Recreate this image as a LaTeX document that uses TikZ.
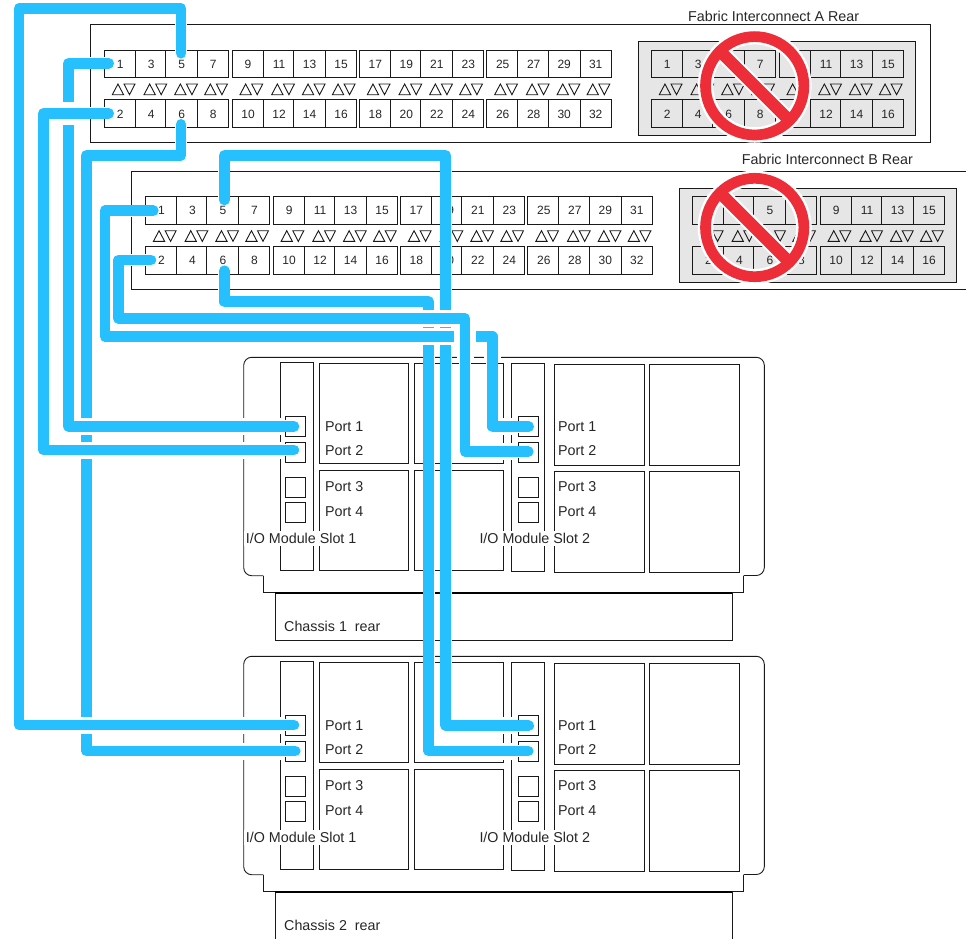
\documentclass[tikz,border=0pt]{standalone}
\usepackage{fontspec}
\setmainfont{Liberation Sans}
\usetikzlibrary{calc}
\definecolor{cablecol}{RGB}{38,192,255}
\definecolor{panelcol}{RGB}{230,230,230}
\definecolor{signcol}{RGB}{237,46,56}
\tikzset{
  wire/.style={draw=black!90, line width=0.9pt},
  portnum/.style={inner sep=0pt, font=\fontsize{12}{14}\selectfont, text=black!85},
  caption/.style={anchor=west, inner sep=0pt, font=\fontsize{14.3}{16}\selectfont, text=black!85},
  slotlabel/.style={caption, fill=white, inner xsep=1.5pt, minimum height=15pt},
  cable/.style={draw=cablecol, line width=10.6pt, line cap=round, line join=round,
    preaction={draw=white, line width=12pt, line cap=butt}},
  wipe/.style={draw=white, line width=17pt}
}
\newcommand{\portgroup}[3]{
  \foreach \ry/\rh in {50/27.7, 99.3/28} {
    \draw[wire] (#1,\ry) rectangle ++(124.4,\rh);
    \foreach \dx in {31,61.5,93.5} \draw[wire] (#1+\dx,\ry) -- ++(0,\rh);
  }
  \foreach \dx [count=\i from 0] in {16,47,77.5,109} {
    \pgfmathtruncatemacro\numtop{#2+2*\i}
    \pgfmathtruncatemacro\numbot{#2+2*\i+1}
    \node[portnum] (#3\numtop) at (#1+\dx,64) {\numtop};
    \node[portnum] (#3\numbot) at (#1+\dx,114) {\numbot};
  }
  \foreach \dx in {8,39.7,70.4,100.4} {
    \draw[wire] (#1+\dx,94.7) -- ++(11.3,0) -- ++(-5.65,-10.7) -- cycle;
    \draw[wire] (#1+\dx+11.7,84) -- ++(11,0) -- ++(-5.5,10.7) -- cycle;
  }
}
\newcommand{\fabricports}[1]{
  \portgroup{104.3}{1}{#1}
  \portgroup{232}{9}{#1}
  \portgroup{359.3}{17}{#1}
  \portgroup{486.7}{25}{#1}
  \draw[wire, fill=panelcol] (638.7,41.7) rectangle (915,135.7);
  \portgroup{651.3}{1}{#1g}
  \portgroup{779}{9}{#1g}
}
\newcommand{\nosign}[3]{
  \coordinate (#1) at (#2,#3);
  \draw[white, line width=15.5pt] (#1) circle (49.2);
  \draw[white, line width=16pt] ($(#1)+(-31,-31)$) -- ($(#1)+(31,31)$);
  \draw[signcol, line width=12pt] ($(#1)+(-35,-35)$) -- ($(#1)+(35,35)$);
  \draw[signcol, line width=10.7pt] (#1) circle (49.2);
}
\newcommand{\modulebox}[4]{
  \draw[wire] (#1,#2) rectangle (#3,#4);
}
\newcommand{\chassisrear}[1]{
  \draw[wire, rounded corners=8] (263.3,575.7) -- (243.7,575.7) -- (243.7,357.3) -- (764.3,357.3) -- (764.3,575.5) -- (743.7,575.5);
  \draw[wire] (263.3,575.7) -- (263.3,592.7) -- (743.7,592.7) -- (743.7,575.5);
  \draw[wire] (275.3,592.7) rectangle (732.3,640.3);
  \draw[black, line width=1.8pt] (275.3,592.7) -- (732.3,592.7);
  \modulebox{280.3}{362.3}{313.7}{570.3}
  \modulebox{511.3}{363.3}{544.7}{571.7}
  \modulebox{319.3}{363.3}{408.3}{463.7}
  \modulebox{319.3}{470.3}{408.3}{570.7}
  \modulebox{414.3}{363.3}{503.7}{463.7}
  \modulebox{414.3}{470.3}{503.7}{570.7}
  \modulebox{554.7}{364.3}{644}{465}
  \modulebox{554.7}{471.3}{644}{572}
  \modulebox{649.7}{364.3}{739}{465}
  \modulebox{649.7}{471.3}{739}{572}
  \foreach \py in {416.3,442,477,502.3} {
    \modulebox{285}{\py}{305.7}{\py+20}
    \modulebox{518.3}{\py}{538.7}{\py+20}
  }
  \foreach \pn/\py in {1/426.5,2/450.5,3/486.5,4/511.5} {
    \node[caption] (c#1s1l\pn) at (325,\py) {Port \pn};
    \node[caption] (c#1s2l\pn) at (558,\py) {Port \pn};
  }
  \node[slotlabel] (c#1m1) at (244.2,538.3) {I/O Module Slot 1};
  \node[slotlabel] (c#1m2) at (477.8,538.3) {I/O Module Slot 2};
  \node[caption] (c#1rear) at (284,626) {Chassis #1\ \ rear};
}
\begin{document}
\begin{tikzpicture}[x=1pt,y=-1pt]
\useasboundingbox (0,0) rectangle (966,938);
\draw[wire] (90.7,24.3) rectangle (930.3,142.3);
\draw[wire] (966,171) -- (131.3,171) -- (131.3,289) -- (966,289);
\node[caption] (fabrica) at (688,16) {Fabric Interconnect A Rear};
\node[caption] (fabricb) at (741.7,159) {Fabric Interconnect B Rear};
\fabricports{a}
\begin{scope}[shift={(41.1,146.7)}]
\fabricports{b}
\end{scope}
\nosign{signa}{754.7}{85.8}
\nosign{signb}{754.7}{227.5}
\chassisrear{1}
\begin{scope}[yshift=-299pt]
\chassisrear{2}
\end{scope}
\coordinate (a1end) at (108.7,63.3);
\coordinate (a2end) at (108.7,113.3);
\coordinate (a5end) at (181,53.3);
\coordinate (a6end) at (181,124.3);
\coordinate (b1end) at (153.3,210.7);
\coordinate (b2end) at (151,260);
\coordinate (b5end) at (224.3,200);
\coordinate (b6end) at (224.3,270.7);
\coordinate (c1s1p1) at (294,426.3);
\coordinate (c1s1p2) at (294,450);
\coordinate (c1s2p1) at (528.7,426.7);
\coordinate (c1s2p2) at (528.3,451.7);
\coordinate (c2s1p1) at (294,725);
\coordinate (c2s1p2) at (295.3,751);
\coordinate (c2s2p1) at (528.7,725.7);
\coordinate (c2s2p2) at (528.3,751);
\draw[wipe] (91,751) -- (283,751);
\draw[cable] (a6end) |- (86.3,155.3) |- (c2s1p2);
\draw[wipe] (78,426.3) -- (283,426.3);
\draw[cable] (a1end) -| (68.3,200) |- (c1s1p1);
\draw[wipe, line width=23pt] (60,113.3) -- (78,113.3);
\draw[wipe] (48,450) -- (283,450);
\draw[cable] (a2end) -| (43.3,300) |- (c1s1p2);
\draw[wipe] (24,725) -- (283,725);
\draw[cable] (a5end) |- (19,8.3) |- (c2s1p1);
\draw[wipe] (451,725.7) -- (516,725.7);
\draw[cable] (b5end) |- (445.7,155.3) |- (c2s2p1);
\draw[wipe] (434,751) -- (516,751);
\draw[cable] (b6end) |- (428.7,301.7) |- (c2s2p2);
\draw[wipe] (420,336.7) -- (453.7,336.7);
\draw[wipe] (492.3,352) -- (492.3,361);
\draw[wipe] (498,426.7) -- (516,426.7);
\draw[cable] (b1end) -| (105,300) |- (492.3,336.7) |- (c1s2p1);
\draw[wipe] (420,318.3) -- (456,318.3);
\draw[wipe, line width=13pt] (453.8,336.7) -- (476.2,336.7);
\draw[wipe] (465,352) -- (465,361);
\draw[wipe] (471,451.7) -- (516,451.7);
\draw[cable] (b2end) -| (118.3,300) |- (465,318.3) |- (c1s2p2);
\end{tikzpicture}
\end{document}
